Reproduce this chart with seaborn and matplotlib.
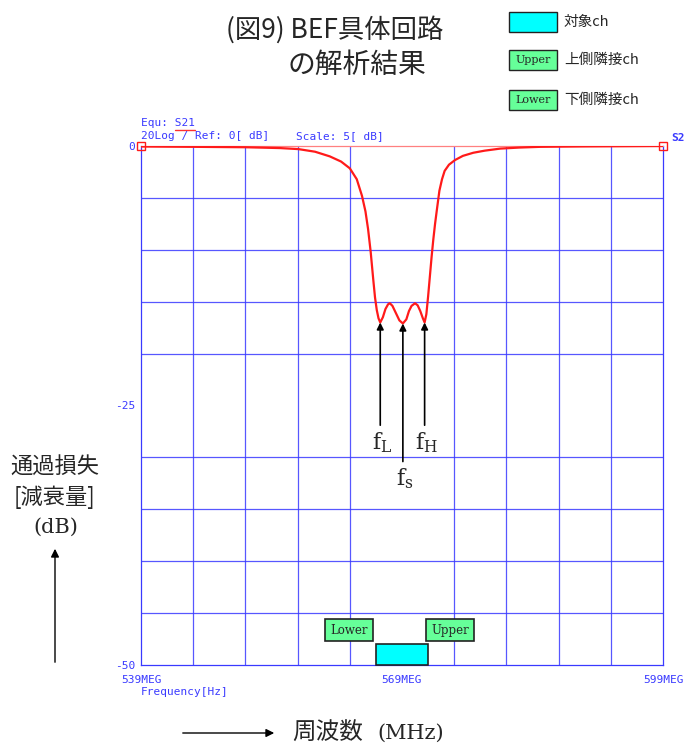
import matplotlib
matplotlib.use("Agg")
import matplotlib.pyplot as plt
import seaborn as sns
import pandas as pd
from matplotlib.patches import Rectangle, FancyArrowPatch

# S21 response of the BEF (MHz, dB)
freq = [539.0, 545.0, 551.0, 555.0, 557.1, 559.0, 560.7, 562.0, 563.0, 563.8,
        564.4, 564.8, 565.1, 565.4, 565.7, 565.9, 566.1, 566.3, 566.5, 566.8,
        567.1, 567.4, 567.6, 567.9, 568.3, 568.7, 569.1, 569.5, 569.8, 570.1,
        570.5, 570.8, 571.1, 571.4, 571.6, 571.8, 572.0, 572.2, 572.4, 572.6,
        572.8, 573.0, 573.3, 573.6, 573.9, 574.4, 575.1, 576.0, 577.2, 578.5,
        580.3, 582.5, 584.9, 590.0, 599.0]
s21 = [-0.05, -0.08, -0.12, -0.2, -0.3, -0.55, -1.0, -1.5, -2.15, -3.2,
       -4.8, -6.3, -8.0, -10.2, -12.9, -14.6, -15.8, -16.6, -17.0, -16.5,
       -15.7, -15.25, -15.15, -15.4, -16.1, -16.8, -17.1, -16.7, -15.9, -15.4,
       -15.15, -15.35, -15.9, -16.6, -17.0, -16.2, -14.5, -12.6, -10.7, -9.0,
       -7.5, -6.2, -4.3, -3.2, -2.4, -1.8, -1.35, -0.95, -0.65, -0.45,
       -0.25, -0.15, -0.08, -0.04, 0.0]

# channel boxes at the bottom of the plot
ch_names = ["対象ch", "Lower", "Upper"]
ch_left = [566.0, 560.2, 571.8]
ch_width = [6.0, 5.5, 5.5]
ch_bottom = [-50.0, -47.7, -47.7]
ch_height = [2.0, 2.1, 2.1]
ch_colors = ["#00ffff", "#66ff99", "#66ff99"]

# f markers
mark_labels = [r"$\mathrm{f_L}$", r"$\mathrm{f_s}$", r"$\mathrm{f_H}$"]
mark_freq = [566.5, 569.1, 571.6]
mark_level = [-17.0, -17.1, -17.0]
mark_tail = [-26.9, -30.4, -26.9]

xticks = [539, 569, 599]
xticklabels = ["539MEG", "569MEG", "599MEG"]
yticks = [0, -25, -50]
yticklabels = ["0", "-25", "-50"]

sns.set_style("white")
plt.rcParams["font.family"] = ["Noto Sans CJK JP", "DejaVu Sans"]
plt.rcParams["mathtext.fontset"] = "dejavuserif"

blue = "#3a3aff"
mono = "DejaVu Sans Mono"

fig = plt.figure(figsize=(6.85, 7.51), dpi=100)
ax = fig.add_axes([141/685, 1-665/751, 522/685, 519/751])

df = pd.DataFrame({"freq": freq, "s21": s21})
sns.lineplot(data=df, x="freq", y="s21", ax=ax, color="#ff1a1a", lw=1.6, zorder=5)
ax.plot([539, 599], [0, 0], ls="none", marker="s", ms=6, mfc="none",
        mec="#ff1a1a", mew=1.0, clip_on=False, zorder=6)

ax.set_xlim(539, 599)
ax.set_ylim(-50, 0)
ax.set_xticks([539 + 6*i for i in range(11)], minor=True)
ax.set_yticks([-5*i for i in range(11)], minor=True)
ax.grid(which="minor", color=blue, lw=0.9, alpha=0.85)
ax.set_xticks(xticks)
ax.set_xticklabels(xticklabels, fontfamily=mono, fontsize=8, color=blue)
ax.set_yticks(yticks)
ax.set_yticklabels(yticklabels, fontfamily=mono, fontsize=8, color=blue)
ax.tick_params(axis="y", which="both", length=3, color=blue, pad=1)
ax.tick_params(axis="x", which="both", length=0, pad=7)
for s in ax.spines.values():
    s.set_color(blue)
    s.set_linewidth(0.9)
ax.spines["top"].set_color("#ff8080")
ax.set_xlabel("")
ax.set_ylabel("")

# channel boxes
ax.bar(ch_left, ch_height, width=ch_width, bottom=ch_bottom, align="edge",
       color=ch_colors, edgecolor="#222222", lw=1.2, zorder=4, clip_on=False)
for name, l, w, b, h in zip(ch_names, ch_left, ch_width, ch_bottom, ch_height):
    if name != "対象ch":
        ax.text(l + w/2, b + h/2, name, ha="center", va="center",
                fontfamily="DejaVu Serif", fontsize=8.5, zorder=6)

# f arrows
for lab, f, lv, tl in zip(mark_labels, mark_freq, mark_level, mark_tail):
    ax.annotate("", xy=(f, lv), xytext=(f, tl),
                arrowprops=dict(arrowstyle="-|>", color="black", lw=1.2,
                                mutation_scale=10, shrinkA=0, shrinkB=0),
                zorder=7)
    ax.text(f + 0.2, tl - 0.5, lab, ha="center", va="top", fontsize=16,
            zorder=7)

# header texts in blue
fig.text(141/685, 1-123/751, "Equ: S21", fontfamily=mono, fontsize=8,
         color=blue, va="center")
fig.add_artist(plt.Line2D([175/685, 195/685], [1-130/751, 1-130/751],
                          color="#ff3030", lw=1.0))
fig.text(141/685, 1-136/751, "20Log / Ref: 0[ dB]", fontfamily=mono,
         fontsize=8, color=blue, va="center")
fig.text(296/685, 1-136/751, "Scale: 5[ dB]", fontfamily=mono, fontsize=8,
         color=blue, va="center")
fig.text(671/685, 1-138/751, "S2", fontfamily=mono, fontsize=8,
         color=blue, va="center", fontweight="bold")
fig.text(141/685, 1-692/751, "Frequency[Hz]", fontfamily=mono, fontsize=8,
         color=blue, va="center")

# title
fig.text(335/685, 1-30/751, "(図9) BEF具体回路", ha="center", va="center",
         fontsize=19)
fig.text(357/685, 1-65/751, "の解析結果", ha="center", va="center",
         fontsize=20)

# legend boxes
leg_names = ["対象ch", "上側隣接ch", "下側隣接ch"]
leg_tags = ["", "Upper", "Lower"]
leg_colors = ["#00ffff", "#66ff99", "#66ff99"]
leg_y = [22, 60, 100]
for name, tag, c, y in zip(leg_names, leg_tags, leg_colors, leg_y):
    fig.add_artist(Rectangle((509/685, 1-(y+10)/751), 48/685, 20/751,
                             transform=fig.transFigure, facecolor=c,
                             edgecolor="#222222", lw=1.0))
    if tag:
        fig.text(533/685, 1-y/751, tag, ha="center", va="center",
                 fontfamily="DejaVu Serif", fontsize=8)
    fig.text(564/685, 1-y/751, name, ha="left", va="center", fontsize=10.5)

# y axis caption with arrow
fig.text(55/685, 1-467/751, "通過損失", ha="center", va="center", fontsize=16)
fig.text(55/685, 1-497/751, "[減衰量]", ha="center", va="center", fontsize=16)
fig.text(56/685, 1-527/751, "(dB)", ha="center", va="center", fontsize=15,
         fontfamily="DejaVu Serif")
fig.add_artist(FancyArrowPatch(
    (55/685, 1-665/751), (55/685, 1-546/751), transform=fig.transFigure,
    arrowstyle="-|>", mutation_scale=12, color="black", lw=1.0))

# x axis caption with arrow
fig.add_artist(FancyArrowPatch(
    (180/685, 1-733/751), (277/685, 1-733/751), transform=fig.transFigure,
    arrowstyle="-|>", mutation_scale=12, color="black", lw=1.0))
fig.text(292/685, 1-733/751, "周波数", ha="left", va="center", fontsize=17)
fig.text(377/685, 1-733/751, "(MHz)", ha="left", va="center", fontsize=15,
         fontfamily="DejaVu Serif")

fig.savefig("out.png", dpi=100)
